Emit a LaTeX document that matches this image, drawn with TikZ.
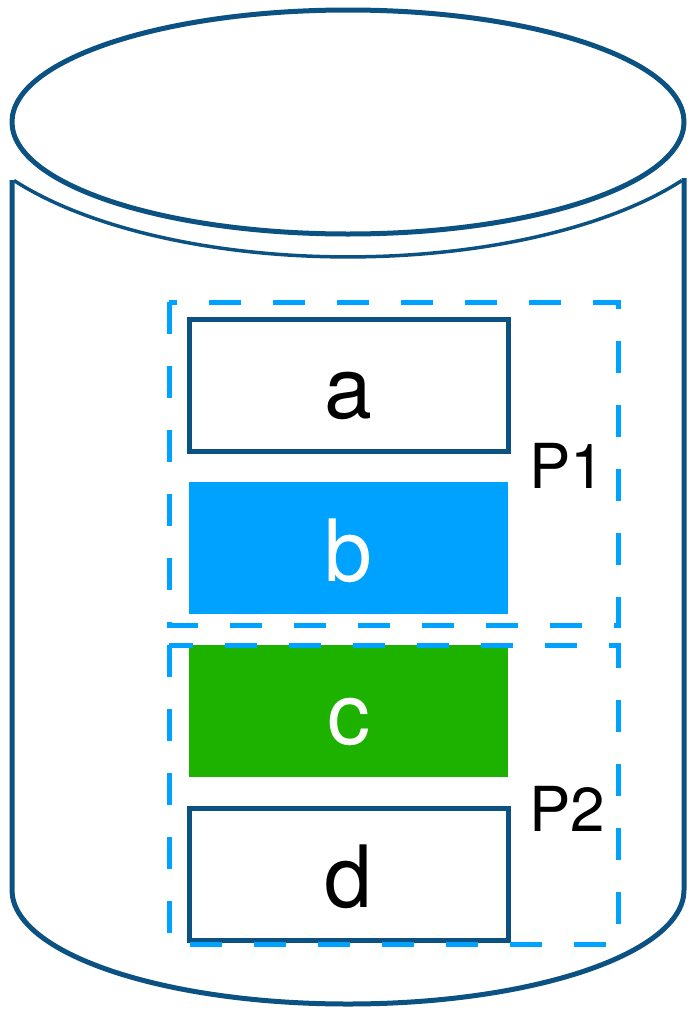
\documentclass[tikz,border=0pt]{standalone}
\usepackage{fontspec}
\setmainfont{TeX Gyre Heros}
\usetikzlibrary{positioning,calc}
\definecolor{rim}{HTML}{0B5283}
\definecolor{part}{HTML}{00A2FF}
\definecolor{leaf}{HTML}{1DB100}

\tikzset{
  cyl/.style={draw=rim, line width=5pt, line join=round},
  rowbox/.style={minimum width=319pt, minimum height=132pt, inner sep=0pt,
    outer sep=0pt, text height=77pt, text depth=10pt,
    font=\fontsize{86}{90}\selectfont},
  outlined/.style={rowbox, draw=rim, line width=5pt, fill=white},
  filled/.style={rowbox, fill=#1, text=white},
  partline/.style={draw=part, line width=5pt, dash pattern=on 32pt off 32pt},
  partname/.style={anchor=base west, inner sep=0pt, font=\fontsize{62}{66}\selectfont}
}

\begin{document}
\begin{tikzpicture}[x=1pt,y=-1pt]
  \useasboundingbox (0,0) rectangle (692,1015);
  % cylinder
  \draw[cyl] (348,122) ellipse[x radius=336, y radius=112];
  \draw[cyl, line width=3.5pt] (14,180.5) arc[start angle=146.6, end angle=33.4, x radius=400, y radius=170];
  \draw[cyl] (12,180) -- (12,890) arc[start angle=180, end angle=0, x radius=336, y radius=114] -- (684,178);

  % rows
  \node[outlined] (a) at (348.5,385) {a};
  \node[filled=part, below=31pt of a] (b) {b};
  \node[filled=leaf, below=31pt of b] (c) {c};
  \node[outlined, below=31pt of c] (d) {d};

  % partitions
  \draw[partline] ($(a.north west)+(-20,-17)$) rectangle ($(b.south east)+(110,11)$);
  \draw[partline] ($(c.north west)+(-20,0)$) rectangle ($(d.south east)+(110,4)$);
  \node[partname] (p1) at ($(a.south east)+(21,37)$) {P1};
  \node[partname] (p2) at ($(d.north east)+(21,23)$) {P2};
\end{tikzpicture}
\end{document}
